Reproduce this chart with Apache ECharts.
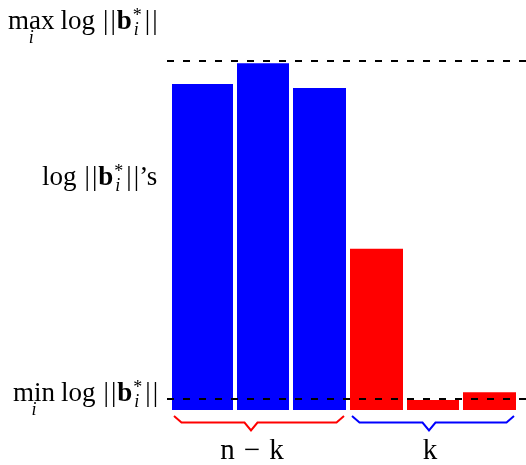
<!DOCTYPE html>
<html><head><meta charset="utf-8">
<script src="https://cdn.jsdelivr.net/npm/echarts@6/dist/echarts.min.js"></script>
<style>html,body{margin:0;padding:0;background:#fff}#c{width:526px;height:465px}</style>
</head><body><div id="c"></div>
<script>
// ---- data ----
// each bar occupies an interval on the (hidden) index axis
const barFrom  = [5, 70, 126, 183, 240, 296];
const barTo    = [66, 122, 179, 236, 292, 349];
const barValue = [326, 346.7, 322, 161.3, 10, 17.7];
const barGroup = [0, 0, 0, 1, 1, 1];          // 0: first n-k vectors, 1: last k vectors
const maxLevel = 349.3;                        // max_i log||b_i*||
const minLevel = 11.7;                         // min_i log||b_i*||
const groupFrom = [7, 185];
const groupTo   = [177, 347];
const groupTip  = [84, 262];
const groupLabel = [['n', '−', 'k'], ['k']];

const barColors = ['#0000ff', '#ff0000'];
const braceColors = ['#ff0000', '#0000ff'];

const chart = echarts.init(document.getElementById('c'), null, {renderer: 'canvas'});

const barData = barValue.map((v, i) => [barFrom[i], barTo[i], v, barGroup[i]]);
const braceData = groupFrom.map((f, i) => [f, groupTo[i], groupTip[i], i]);

const FONT = '"Liberation Serif", "Times New Roman", serif';
const mctx = document.createElement('canvas').getContext('2d');
function fontStr(p) { return (p.italic ? 'italic ' : '') + (p.bold ? 'bold ' : '') + p.size + 'px ' + FONT; }
function layoutMath(x0, base, parts) {
  const els = [];
  let cx = x0, prevX = x0, prevW = 0;
  for (const p of parts) {
    if (p.gap) { cx += p.gap; continue; }
    mctx.font = fontStr(p);
    const w = mctx.measureText(p.t).width;
    let x;
    if (p.under) { x = prevX + prevW / 2 - w / 2 + (p.dx || 0); }
    else if (p.stack) { x = prevX + (p.dx || 0); }
    else { x = cx + (p.dx || 0); prevX = x; prevW = w; cx = x + w; }
    if (p.stack) { cx = Math.max(cx, prevX + w + (p.dx || 0)); }
    const b = base + (p.dy || 0);
    els.push({
      type: 'text', silent: true,
      style: {
        text: p.t, x: x, y: b - 0.3375 * p.size,
        font: fontStr(p), fill: '#000',
        align: 'left', verticalAlign: 'middle'
      }
    });
  }
  return {els: els, width: cx - x0};
}
const S = 27;
function normLabel(opName) {
  const parts = [];
  if (opName) {
    parts.push({t: opName, size: S});
    parts.push({t: 'i', size: 18, italic: true, under: true, dy: 13});
    parts.push({gap: 6});
  }
  parts.push({t: 'log', size: S});
  parts.push({gap: 8});
  parts.push({t: '|', size: S});
  parts.push({gap: 2});
  parts.push({t: '|', size: S});
  parts.push({gap: 1});
  parts.push({t: 'b', size: S, bold: true});
  parts.push({t: '*', size: 18, dy: -9, dx: 1});
  parts.push({t: 'i', size: 18, italic: true, stack: true, dy: 5, dx: 1});
  parts.push({gap: 3});
  parts.push({t: '|', size: S});
  parts.push({gap: 2});
  parts.push({t: '|', size: S});
  return parts;
}
const graphics = []
  .concat(layoutMath(8, 31, normLabel('max')).els)
  .concat(layoutMath(13, 403, normLabel('min')).els)
  .concat(layoutMath(42, 187, normLabel(null).concat([{t: '’s', size: S}])).els);

chart.setOption({
  animation: false,
  grid: {left: 167, right: 0, top: 50, bottom: 55},
  xAxis: {type: 'value', min: 0, max: 359, show: false},
  yAxis: {type: 'value', min: 0, max: 360, show: false},
  series: [
    {
      type: 'custom',
      data: barData,
      z: 2,
      renderItem: function (params, api) {
        const p0 = api.coord([api.value(0), api.value(2)]);
        const p1 = api.coord([api.value(1), 0]);
        return {
          type: 'rect',
          shape: {x: p0[0], y: p0[1], width: p1[0] - p0[0], height: p1[1] - p0[1]},
          style: {fill: barColors[api.value(3)]}
        };
      },
      markLine: {
        silent: true, symbol: 'none', z: 5,
        label: {show: false},
        lineStyle: {color: '#000', width: 2, type: [7, 9]},
        data: [{yAxis: maxLevel}, {yAxis: minLevel}]
      }
    },
    {
      type: 'custom',
      data: braceData,
      z: 3,
      renderItem: function (params, api) {
        const a = api.coord([api.value(0), 0]);
        const b = api.coord([api.value(1), 0]);
        const t = api.coord([api.value(2), 0]);
        const y0 = a[1] + 6, y1 = y0 + 6.5, y2 = y0 + 14.5, d = 7.5;
        const i = api.value(3);
        const lbl = groupLabel[i];
        const parts = [];
        lbl.forEach((s, k) => {
          if (k > 0) parts.push({gap: 9});
          parts.push({t: s, size: 29});
        });
        const m = layoutMath(0, 0, parts);
        const lx = t[0] + 1 - m.width / 2;
        const lay = layoutMath(lx, y2 + 31, parts);
        return {
          type: 'group',
          children: [
            {
              type: 'polyline',
              shape: {points: [[a[0], y0], [a[0] + d, y1], [t[0] - 6.5, y1], [t[0], y2],
                               [t[0] + 6.5, y1], [b[0] - d, y1], [b[0], y0]]},
              style: {stroke: braceColors[i], lineWidth: 2, fill: null}
            }
          ].concat(lay.els)
        };
      }
    }
  ],
  graphic: graphics
});
</script></body></html>
